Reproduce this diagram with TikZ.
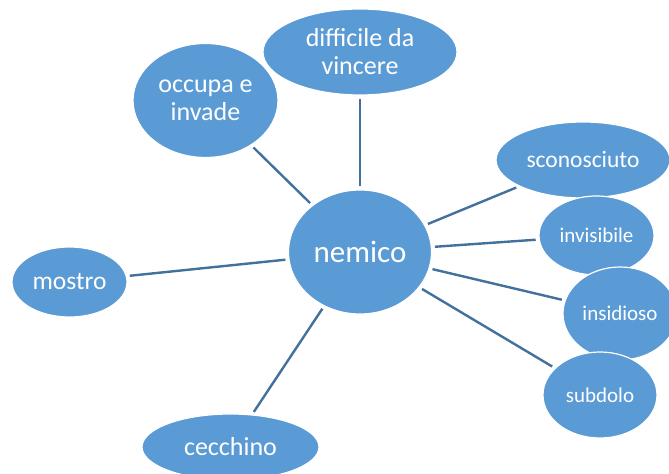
\documentclass[tikz,border=0pt]{standalone}
\usepackage{fontspec}
\setmainfont{Carlito}
\usetikzlibrary{shapes.geometric}
\definecolor{bubble}{HTML}{5B9BD5}
\definecolor{link}{HTML}{41719C}
\tikzset{
  bub/.style={ellipse, fill=bubble, draw=white, line width=1.2bp, inner sep=0pt,
    text=white, align=center},
  con/.style={draw=link, line width=2.4bp, shorten <=3bp, shorten >=3bp},
}
\newcommand{\fs}[1]{\fontsize{#1bp}{1.08\dimexpr#1bp\relax}\selectfont}
\begin{document}
\begin{tikzpicture}[x=1bp,y=-1bp]
\useasboundingbox (0,0) rectangle (669,474);
\fill[white] (0,0) rectangle (669,474);
\node[bub, minimum width=194bp, minimum height=86bp, font=\fs{26}] (dif) at (360,52) {difficile da\\vincere};
\node[bub, minimum width=145bp, minimum height=114bp, font=\fs{26}] (occ) at (205.5,100.5) {occupa e\\invade};
\node[bub, minimum width=143bp, minimum height=124bp, font=\fs{31}] (nem) at (360,252) {nemico};
\node[bub, minimum width=174bp, minimum height=76bp, font=\fs{23.5}] (sco) at (583,160) {sconosciuto};
\node[bub, minimum width=115bp, minimum height=79bp, font=\fs{21}] (inv) at (596.5,235.5) {invisibile};
\node[bub, minimum width=114bp, minimum height=93bp, font=\fs{21}] (ins) at (620,313.5) {insidioso};
\node[bub, minimum width=114bp, minimum height=86bp, font=\fs{21}] (sub) at (600,395) {subdolo};
\node[bub, minimum width=115bp, minimum height=70bp, font=\fs{25.5}] (mos) at (69.5,282) {mostro};
\node[bub, minimum width=177bp, minimum height=66bp, font=\fs{26}] (cec) at (230.5,447) {cecchino};
\foreach \n in {dif,occ,sco,inv,ins,sub,mos,cec}
  \draw[con] (nem) -- (\n);
\end{tikzpicture}
\end{document}
